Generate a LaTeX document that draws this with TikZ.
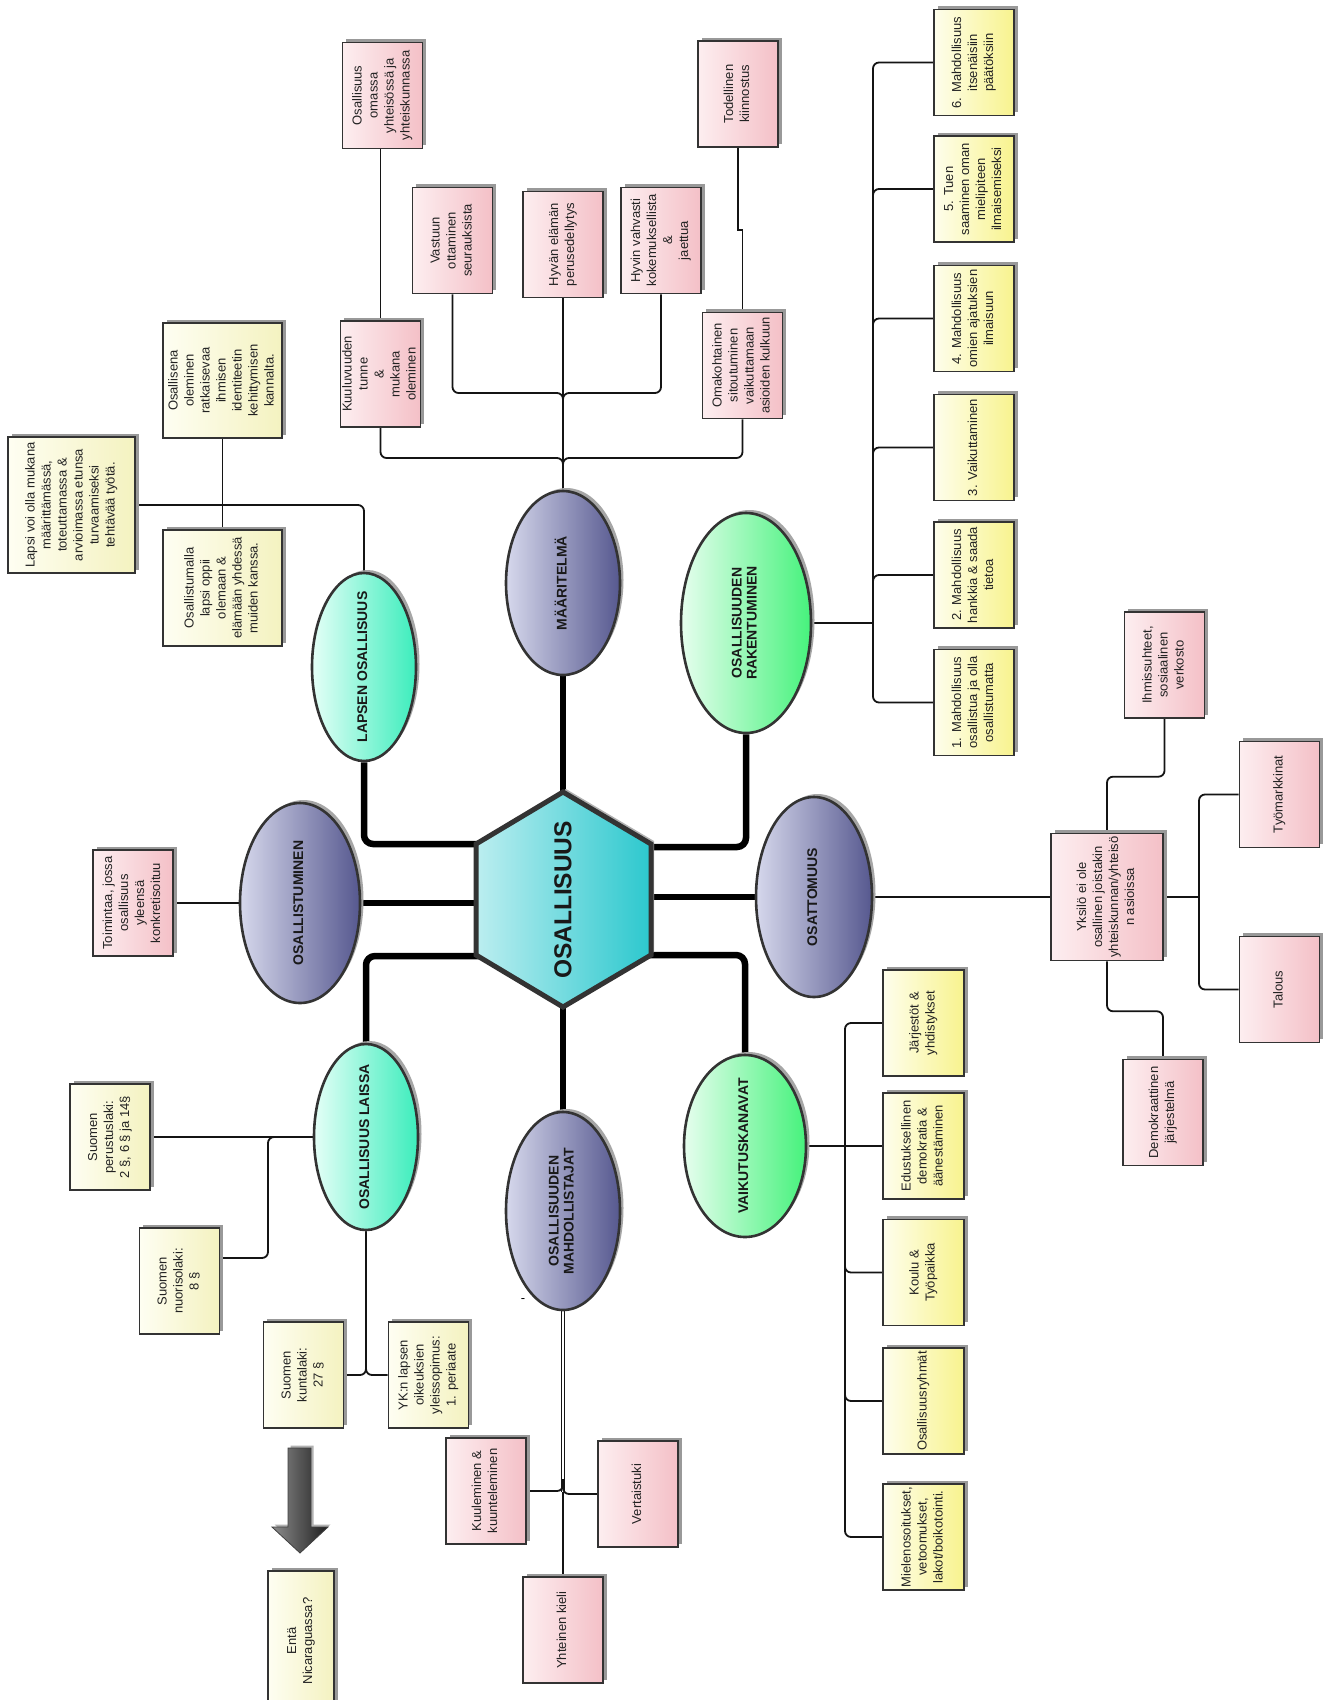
\documentclass[tikz,border=0pt]{standalone}
\usepackage{fontspec}
\setmainfont{Liberation Sans}
\usepackage{graphicx}
\usetikzlibrary{shapes.geometric,shadows,calc}
\pgfdeclarelayer{bgwhite}
\pgfdeclarelayer{lines}
\pgfsetlayers{bgwhite,lines,main}
\definecolor{pinkL}{HTML}{FDEEF0}
\definecolor{pinkR}{HTML}{F4C0C7}
\definecolor{yelL}{HTML}{FEFEEC}
\definecolor{yelR}{HTML}{F8F38E}
\definecolor{crL}{HTML}{FEFEF2}
\definecolor{crR}{HTML}{F4F2C0}
\definecolor{purL}{HTML}{D6D8EC}
\definecolor{purR}{HTML}{56588F}
\definecolor{grnL}{HTML}{E6FEEE}
\definecolor{grnR}{HTML}{46F27C}
\definecolor{aquL}{HTML}{E4FFF7}
\definecolor{aquR}{HTML}{3CEDBC}
\definecolor{hexL}{HTML}{BCEEF0}
\definecolor{hexR}{HTML}{2CC8CE}
\definecolor{edge}{HTML}{333333}
\definecolor{txt}{HTML}{222222}
\newcommand{\vtxt}[1]{\rotatebox{90}{\begin{tabular}{@{}c@{}}#1\end{tabular}}}
\tikzset{
  boxbase/.style={rectangle, draw=edge, line width=1.6pt, inner sep=0pt, text=txt,
     font=\fontsize{13}{16}\selectfont, minimum width=80pt, minimum height=106pt,
     drop shadow={shadow xshift=3.5pt, shadow yshift=3.5pt, fill=black!40, opacity=1}},
  pbox/.style={boxbase, left color=pinkL, right color=pinkR},
  ybox/.style={boxbase, left color=yelL, right color=yelR},
  cbox/.style={boxbase, left color=crL, right color=crR},
  ellbase/.style={ellipse, draw=edge, line width=2.6pt, inner sep=0pt,
     drop shadow={shadow xshift=3.5pt, shadow yshift=3pt, fill=black!35, opacity=1}},
  pell/.style={ellbase, left color=purL, right color=purR},
  gell/.style={ellbase, left color=grnL, right color=grnR},
  aell/.style={ellbase, left color=aquL, right color=aquR},
  etext/.style={inner sep=0pt, text=black!90, font=\bfseries\fontsize{14}{15}\selectfont},
  conn/.style={draw=black!92, line width=1.8pt, rounded corners=6pt},
  dbl/.style={draw=black!92, line width=1.1pt, double=white, double distance=2.2pt},
  thickconn/.style={draw=black, line width=6.5pt, rounded corners=9pt},
}
\begin{document}
\begin{tikzpicture}[x=1pt,y=-1pt]
\begin{pgfonlayer}{bgwhite}
\fill[white] (0,0) rectangle (1327,1700);
\end{pgfonlayer}
\useasboundingbox (0,0) rectangle (1327,1700);
\clip (0,0) rectangle (1327,1700);

% ---------- top (MAARITELMA) boxes
\node[pbox] (omassa) at (382.5,95.5) {\vtxt{Osallisuus\\omassa\\yhteisössä ja\\yhteiskunnassa}};
\node[pbox] (kuulu) at (380.5,374) {\vtxt{Kuuluvuuden\\tunne\\\&\\mukana\\oleminen}};
\node[pbox] (vastuu) at (452.5,240.5) {\vtxt{Vastuun\\ottaminen\\seurauksista}};
\node[pbox] (hyvan) at (563,244.5) {\vtxt{Hyvän elämän\\perusedellytys}};
\node[pbox] (hyvin) at (661,240.5) {\vtxt{Hyvin vahvasti\\kokemuksellista\\\&\\jaettua}};
\node[pbox] (todell) at (738,94) {\vtxt{Todellinen\\kiinnostus}};
\node[pbox] (omakoht) at (742.5,365.5) {\vtxt{Omakohtainen\\sitoutuminen\\vaikuttamaan\\asioiden kulkuun}};

% ---------- numbered boxes
\node[ybox] (r6) at (974,62.5) {\vtxt{6. Mahdollisuus\\itsenäisiin\\päätöksiin}};
\node[ybox] (r5) at (974,189) {\vtxt{5. Tuen\\saaminen oman\\mielipiteen\\ilmaisemiseksi}};
\node[ybox] (r4) at (974,318.5) {\vtxt{4. Mahdollisuus\\omien ajatuksien\\ilmaisuun}};
\node[ybox] (r3) at (974,447.5) {\vtxt{3. Vaikuttaminen}};
\node[ybox] (r2) at (974,575) {\vtxt{2. Mahdollisuus\\hankkia \& saada\\tietoa}};
\node[ybox] (r1) at (974,702.5) {\vtxt{1. Mahdollisuus\\osallistua ja olla\\osallistumatta}};

% ---------- left boxes
\node[cbox, minimum width=119pt, minimum height=115pt] (osallisena) at (222.5,380.5) {\vtxt{Osallisena\\oleminen\\ratkaisevaa\\ihmisen\\identiteetin\\kehittymisen\\kannalta.}};
\node[cbox, minimum width=127pt, minimum height=136pt] (lapsi) at (71.5,505) {\vtxt{Lapsi voi olla mukana\\määrittämässä,\\toteuttamassa \&\\arvioimassa etunsa\\turvaamiseksi\\tehtävää työtä.}};
\node[cbox, minimum width=119pt, minimum height=116pt] (oppii) at (222.5,588) {\vtxt{Osallistumalla\\lapsi oppii\\olemaan \&\\elämään yhdessä\\muiden kanssa.}};
\node[pbox] (toim) at (133,903) {\vtxt{Toimintaa, jossa\\osallisuus\\yleensä\\konkretisoituu}};
\node[cbox] (perus) at (110,1137) {\vtxt{Suomen\\perustuslaki:\\2 §, 6 § ja 14§}};
\node[cbox] (nuoriso) at (179.5,1281) {\vtxt{Suomen\\nuorisolaki:\\8 §}};
\node[cbox] (kunta) at (303.5,1375) {\vtxt{Suomen\\kuntalaki:\\27 §}};
\node[cbox] (yk) at (428.5,1375) {\vtxt{YK:n lapsen\\oikeuksien\\yleissopimus:\\1. periaate}};
\node[cbox, minimum width=66pt, minimum height=140pt] (enta) at (301,1641) {\vtxt{Entä\\Nicaraguassa?}};

% ---------- bottom (MAHDOLLISTAJAT) boxes
\node[pbox] (kuul) at (486,1491) {\vtxt{Kuuleminen \&\\kuunteleminen}};
\node[pbox] (vertais) at (638,1494) {\vtxt{Vertaistuki}};
\node[pbox] (kieli) at (563,1630) {\vtxt{Yhteinen kieli}};

% ---------- VAIKUTUSKANAVAT boxes
\node[ybox, minimum width=81pt] (jarj) at (923.5,1023) {\vtxt{Järjestöt \&\\yhdistykset}};
\node[ybox, minimum width=81pt] (edus) at (923.5,1146) {\vtxt{Edustuksellinen\\demokratia \&\\äänestäminen}};
\node[ybox, minimum width=81pt] (koulu) at (923.5,1272.5) {\vtxt{Koulu \&\\Työpaikka}};
\node[ybox, minimum width=81pt] (ryhm) at (923.5,1401) {\vtxt{Osallisuusryhmät}};
\node[ybox, minimum width=81pt] (mielen) at (923.5,1537) {\vtxt{Mielenosoitukset,\\vetoomukset,\\lakot/boikotointi.}};

% ---------- OSATTOMUUS boxes
\node[pbox, minimum width=112pt, minimum height=127pt] (yksilo) at (1107,897) {\vtxt{Yksilö ei ole\\osallinen joistakin\\yhteiskunnan/yhteisö\\n asioissa}};
\node[pbox] (ihmis) at (1164.5,665) {\vtxt{Ihmissuhteet,\\sosiaalinen\\verkosto}};
\node[pbox] (tyo) at (1279.5,794.5) {\vtxt{Työmarkkinat}};
\node[pbox] (talous) at (1279.5,989.5) {\vtxt{Talous}};
\node[pbox] (demok) at (1163,1112.5) {\vtxt{Demokraattinen\\järjestelmä}};

% ---------- ellipses
\node[aell, minimum width=104pt, minimum height=188pt] (lapsen) at (364,667) {};
\node[etext] (lapsenT) at (lapsen) {\vtxt{LAPSEN OSALLISUUS}};
\node[pell, minimum width=114pt, minimum height=184pt] (maar) at (563,583) {};
\node[etext] (maarT) at (maar) {\vtxt{MÄÄRITELMÄ}};
\node[gell, minimum width=130pt, minimum height=220pt] (rakent) at (746,623) {};
\node[etext] (rakentT) at (rakent) {\vtxt{OSALLISUUDEN\\RAKENTUMINEN}};
\node[pell, minimum width=120pt, minimum height=200pt] (osallist) at (300,903) {};
\node[etext] (osallistT) at (osallist) {\vtxt{OSALLISTUMINEN}};
\node[pell, minimum width=116pt, minimum height=200pt] (osatt) at (814,897) {};
\node[etext] (osattT) at (osatt) {\vtxt{OSATTOMUUS}};
\node[aell, minimum width=104pt, minimum height=186pt] (laissa) at (366,1137) {};
\node[etext] (laissaT) at (laissa) {\vtxt{OSALLISUUS LAISSA}};
\node[pell, minimum width=114pt, minimum height=198pt] (mahd) at (563,1211) {};
\node[etext] (mahdT) at (mahd) {\vtxt{OSALLISUUDEN\\MAHDOLLISTAJAT}};
\node[gell, minimum width=122pt, minimum height=182pt] (vaikut) at (745,1146) {};
\node[etext] (vaikutT) at (vaikut) {\vtxt{VAIKUTUSKANAVAT}};

\node[font=\fontsize{13}{16}\selectfont, inner sep=0pt] (dash) at (523,1301) {-};

% ---------- hexagon
\coordinate (hT) at (563,792);
\coordinate (hTR) at (651,844);
\coordinate (hBR) at (651,955);
\coordinate (hB) at (563,1007);
\coordinate (hBL) at (476,955);
\coordinate (hTL) at (476,844);
\path[draw=edge, line width=5pt, left color=hexL, right color=hexR,
      drop shadow={shadow xshift=3pt, shadow yshift=3pt, fill=black!30, opacity=1}]
  (hT) -- (hTR) -- (hBR) -- (hB) -- (hBL) -- (hTL) -- cycle;
\node[inner sep=0pt, text=black!90, font=\bfseries\fontsize{24.5}{26}\selectfont] (hex) at (563,900) {\rotatebox{90}{OSALLISUUS}};
\coordinate (hL1) at (500,844);
\coordinate (hL2) at (500,903);
\coordinate (hL3) at (500,956);
\coordinate (hR1) at (630,847);
\coordinate (hR2) at (630,897);
\coordinate (hR3) at (630,955);
\coordinate (hTi) at (563,815);
\coordinate (hBi) at (563,985);

% ---------- big arrow
\path[draw=black!75, line width=0.8pt, left color=black!45, right color=black!88,
      drop shadow={shadow xshift=2.5pt, shadow yshift=2.5pt, fill=black!30, opacity=1}]
  (288,1448) -- (311,1448) -- (311,1527) -- (328,1527) -- (300,1553) -- (272,1527) -- (288,1527) -- cycle;

% ---------- junction points
\coordinate (j1) at (563,393);
\coordinate (j2) at (563,458);
\coordinate (j3) at (268,1137);
\coordinate (j5) at (563,1492);
\coordinate (vt) at (845,1146);
\coordinate (rt) at (873,623);
\coordinate (ot) at (1199,897);

\begin{pgfonlayer}{lines}
% thick
\draw[thickconn] (lapsen.south) |- (hL1);
\draw[thickconn] (osallist.east) -- (hL2);
\draw[thickconn] (hL3) -| (laissa.north);
\draw[thickconn] (maar.south) -- (hTi);
\draw[thickconn] (hBi) -- (mahd.north);
\draw[thickconn] (hR1) -| (rakent.south);
\draw[thickconn] (hR2) -- (osatt.west);
\draw[thickconn] (hR3) -| (vaikut.north);
% maaritelma tree
\draw[conn] (kuulu.north) -- (kuulu.north |- omassa.south);
\draw[conn, rounded corners=0pt] (todell.south) |- ($(todell.south)!0.5!(omakoht.north)$) -| (omakoht.north);
\draw[conn] (hyvan.south) -- (maar.north);
\draw[conn] (vastuu.south) -- (vastuu.south |- j1) -- (j1) -- ++(0,14);
\draw[conn] (hyvin.south) -- (hyvin.south |- j1) -- (j1) -- ++(0,14);
\draw[conn] (kuulu.south) -- (kuulu.south |- j2) -- (j2) -- ++(0,14);
\draw[conn] (omakoht.south) -- (omakoht.south |- j2) -- (j2) -- ++(0,14);
% lapsen tree
\draw[conn] (lapsi.east) -| (lapsen.north);
\draw[conn] (osallisena.south) -- (oppii.north);
% osallistuminen
\draw[conn] (toim.east) -- (osallist.west);
% laissa tree
\draw[conn] (perus.east) -- (laissa.west);
\draw[conn] (laissa.west) -- (j3) |- ([yshift=23pt]nuoriso.east);
\draw[conn] (laissa.south) |- (kunta.east);
\draw[conn] (laissa.south) |- (yk.west);
% mahdollistajat tree
\draw[dbl] (mahd.south) -- (j5);
\draw[conn] (j5) -- (kieli.north);
\draw[conn] (kuul.east) -- (kuul.east -| j5) -- ++(0,-12);
\draw[conn] (vertais.west) -- (vertais.west -| j5) -- ++(0,-12);
% vaikutuskanavat tree
\draw[conn] (vaikut.east) -- (edus.west);
\foreach \n in {jarj,koulu,ryhm,mielen} \draw[conn] (\n.west) -| (vt);
% rakentuminen tree
\draw[conn] (rakent.east) -- (rt);
\foreach \n in {r1,r2,r3,r4,r5,r6} \draw[conn] (\n.west) -| (rt);
% osattomuus tree
\draw[conn] (osatt.east) -- (yksilo.west);
\draw[conn] (yksilo.north) -- ++(0,-56) -| (ihmis.south);
\draw[conn] (yksilo.south) -- ++(0,50) -| (demok.north);
\draw[conn] (yksilo.east) -- (ot);
\draw[conn] (tyo.west) -| (ot);
\draw[conn] (talous.west) -| (ot);
\end{pgfonlayer}
\end{tikzpicture}
\end{document}
